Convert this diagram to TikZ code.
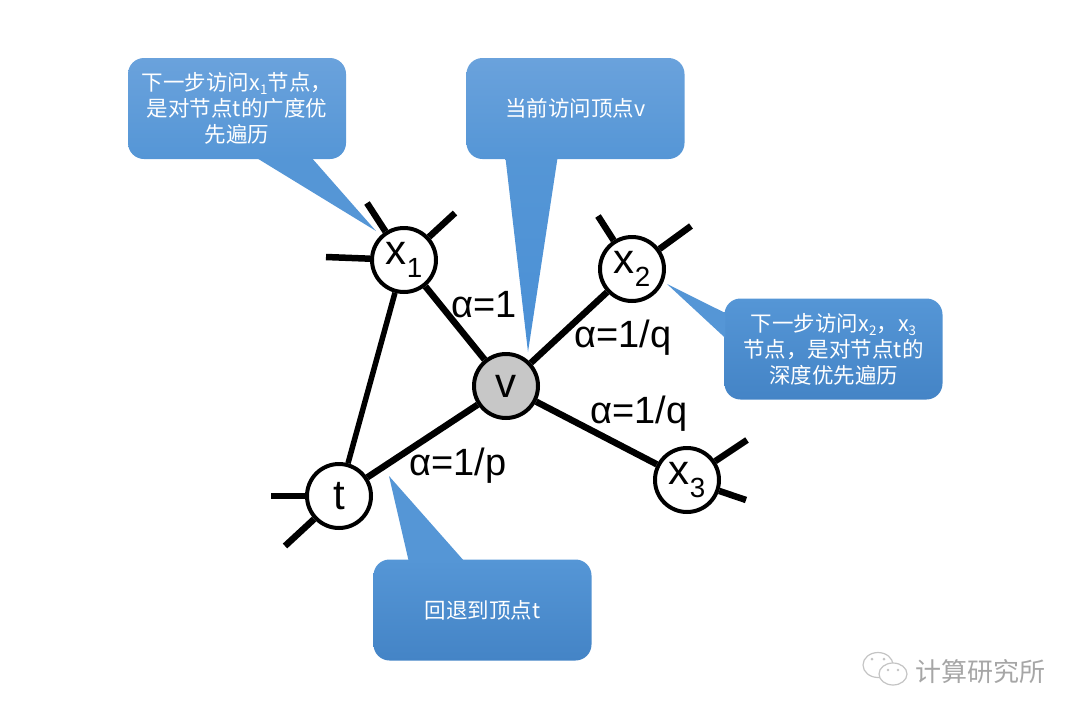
\documentclass[tikz,border=0pt]{standalone}
\usepackage{xcolor}
\usepackage{fontspec}
\setmainfont{Liberation Sans}
\newfontfamily\cjk{Noto Sans CJK SC}
\usetikzlibrary{
    positioning
}
\definecolor{tipdark}{HTML}{4A90D6}
\definecolor{boxtop}{HTML}{6AA2DC}
\definecolor{boxmid}{HTML}{5596D6}
\definecolor{boxlow}{HTML}{4484C6}
\definecolor{markgray}{HTML}{A6A6A6}
\definecolor{bubblegray}{HTML}{C4C4C4}
\newcommand{\lowidx}[1]{\raisebox{-.35ex}{\scalebox{.62}{#1}}}
\newcommand{\nodeidx}[1]{\raisebox{-.55ex}{\scalebox{.66}{#1}}}

\begin{document}
\begin{tikzpicture}[
x=1pt,
y=-1pt,
vertex/.style={
draw=black,
fill=white,
circle,
line width=4pt,
minimum size=64pt,
inner sep=0pt,
font=\fontsize{42}{46}\selectfont
},
edge/.style={
draw=black,
line width=6.5pt
},
weight/.style={
font=\fontsize{38}{42}\selectfont,
text=black,
inner sep=0pt
},
callout/.style={
rounded corners=16pt,
minimum width=218pt,
minimum height=101pt,
align=center,
text=white,
inner sep=0pt,
font=\cjk\fontsize{21.5}{26}\selectfont
}
]

\useasboundingbox (0,0) rectangle (1080,718);

\node[vertex, fill=black!22] (v) at (506,386) {v};
\node[vertex] (x1) at (404,260) {x\nodeidx{1}};
\node[vertex] (x2) at (632,269) {x\nodeidx{2}};
\node[vertex] (x3) at (687,480) {x\nodeidx{3}};
\node[vertex] (t) at (339,496) {t};

\coordinate (x1a) at (367,203);
\coordinate (x1b) at (455,213);
\coordinate (x1c) at (326,257);
\coordinate (x2a) at (598,216);
\coordinate (x2b) at (691,226);
\coordinate (x3a) at (747,440);
\coordinate (x3b) at (746,500);
\coordinate (ta) at (271,496);
\coordinate (tb) at (285,546);

\draw[edge] (x1) -- (v);
\draw[edge] (x2) -- (v);
\draw[edge] (x3) -- (v);
\draw[edge] (t) -- (v);
\draw[edge, line width=5.5pt] (x1) -- (t);
\draw[edge] (x1) -- (x1a);
\draw[edge] (x1) -- (x1b);
\draw[edge] (x1) -- (x1c);
\draw[edge] (x2) -- (x2a);
\draw[edge] (x2) -- (x2b);
\draw[edge] (x3) -- (x3a);
\draw[edge] (x3) -- (x3b);
\draw[edge] (t) -- (ta);
\draw[edge] (t) -- (tb);

\node[weight] (wx1) at (484,305) {α=1};
\node[weight] (wx2) at (623,338) {α=1/q};
\node[weight] (wx3) at (639,414) {α=1/q};
\node[weight] (wt) at (458,466) {α=1/p};

\coordinate (tipx1) at (376,231);
\coordinate (tipv) at (528,352);
\coordinate (tipx2) at (667,284);
\coordinate (tipt) at (389,476);

\node[callout, top color=boxtop, bottom color=boxmid] (cx1) at (237,108.5)
{下一步访问x\lowidx{1}节点，\\是对节点t的广度优\\先遍历};

\node[callout, top color=boxtop, bottom color=boxmid] (cv) at (575.5,108.5)
{当前访问顶点v};

\node[callout, top color=boxmid, bottom color=boxlow] (cx2) at (833.5,349)
{下一步访问x\lowidx{2}，x\lowidx{3}\\节点，是对节点t的\\深度优先遍历};

\node[callout, top color=boxmid, bottom color=boxlow] (ct) at (482.5,610)
{回退到顶点t};

\fill[boxmid] ([xshift=20pt,yshift=1pt]cx1.south) -- (tipx1) -- ([xshift=75pt,yshift=1pt]cx1.south) -- cycle;
\shade[top color=boxmid, bottom color=tipdark] ([xshift=-70pt,yshift=1pt]cv.south) -- (tipv) -- ([xshift=-18pt,yshift=1pt]cv.south) -- cycle;
\fill[boxmid] ([yshift=36pt,xshift=1pt]cx2.west) -- (tipx2) -- ([yshift=11pt,xshift=1pt]cx2.west) -- cycle;
\fill[boxmid] ([xshift=-74pt,yshift=-1pt]ct.north) -- (tipt) -- ([xshift=-19pt,yshift=-1pt]ct.north) -- cycle;

\draw[bubblegray, line width=1.2pt, fill=white] (878,665) ellipse (15pt and 12.5pt);
\draw[bubblegray, line width=1.2pt, fill=white] (893,674) ellipse (14pt and 11pt);
\fill[bubblegray] (872,659) circle (1.5pt) (884,659) circle (1.5pt) (888,670) circle (1.4pt) (898,670) circle (1.4pt);

\node[text=markgray, inner sep=0pt, font=\cjk\fontsize{26}{28}\selectfont] (mark) at (980,672) {计算研究所};

\end{tikzpicture}
\end{document}
